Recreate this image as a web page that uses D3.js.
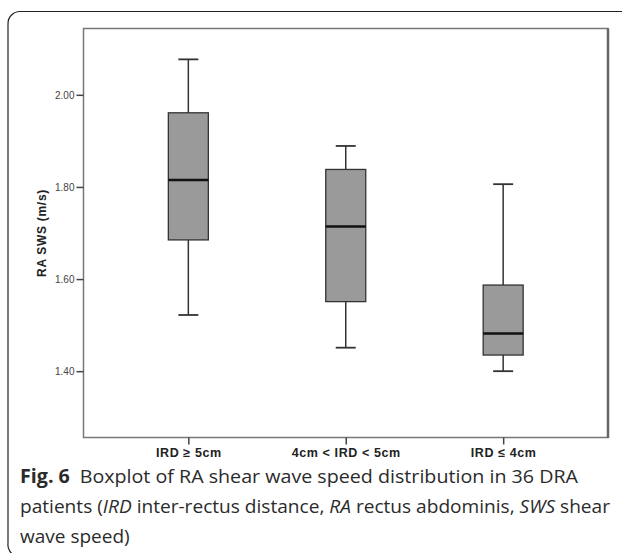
<!DOCTYPE html>
<html>
<head>
<meta charset="utf-8">
<script src="https://cdn.jsdelivr.net/npm/d3@7"></script>
<style>
  body { margin: 0; background: #fff; }
  svg { display: block; }
</style>
</head>
<body>
<div class="chart"></div>
<script>
// values
const categories = ["IRD \u2265 5cm", "4cm < IRD < 5cm", "IRD \u2264 4cm"];
const whiskerLow = [1.522, 1.451, 1.400];
const q1 = [1.685, 1.551, 1.435];
const median = [1.815, 1.714, 1.482];
const q3 = [1.961, 1.838, 1.587];
const whiskerHigh = [2.077, 1.889, 1.806];
const yTicks = [1.40, 1.60, 1.80, 2.00];

const width = 622, height = 553;
const plot = { left: 83.5, right: 608, top: 28.5, bottom: 437.5 };

const svg = d3.select(".chart")
  .append("svg")
  .attr("width", width)
  .attr("height", height);

// outer frame with rounded left corners
svg.append("path")
  .attr("d", "M 630 11.5 H 20 A 12 12 0 0 0 8 23.5 V 543 A 12 12 0 0 0 16 556")
  .attr("fill", "none")
  .attr("stroke", "#222")
  .attr("stroke-width", 1.2);

const x = d3.scalePoint()
  .domain(categories)
  .range([plot.left, plot.right])
  .padding(0.666);

const y = d3.scaleLinear()
  .domain([1.256, 2.144])
  .range([plot.bottom, plot.top]);

// plot border
svg.append("rect")
  .attr("x", plot.left)
  .attr("y", plot.top)
  .attr("width", plot.right - plot.left)
  .attr("height", plot.bottom - plot.top)
  .attr("fill", "none")
  .attr("stroke", "#777")
  .attr("stroke-width", 1.5);
svg.append("line")
  .attr("x1", plot.right).attr("x2", plot.right)
  .attr("y1", plot.top).attr("y2", plot.bottom + 0.5)
  .attr("stroke", "#666")
  .attr("stroke-width", 2.5);

// axes
const yAxis = svg.append("g")
  .attr("transform", `translate(${plot.left},0)`)
  .call(d3.axisLeft(y).tickValues(yTicks).tickFormat(d3.format(".2f")).tickSize(7).tickPadding(2));
yAxis.select(".domain").remove();
yAxis.selectAll("line").attr("stroke", "#444").attr("stroke-width", 1.5);
yAxis.selectAll("text")
  .attr("fill", "#444")
  .style("font-family", "Liberation Sans, Arial, sans-serif")
  .style("font-size", "10px");

const xAxis = svg.append("g")
  .attr("transform", `translate(0,${plot.bottom})`)
  .call(d3.axisBottom(x).tickSize(7).tickPadding(4));
xAxis.select(".domain").remove();
xAxis.selectAll("line").attr("stroke", "#444").attr("stroke-width", 1.5);
xAxis.selectAll("text")
  .attr("fill", "#222")
  .style("font-family", "Liberation Sans, Arial, sans-serif")
  .style("font-weight", "bold")
  .style("font-size", "12.5px")
  .style("letter-spacing", "0.6px");

svg.append("text")
  .attr("transform", `translate(46,${(plot.top + plot.bottom) / 2}) rotate(-90)`)
  .attr("text-anchor", "middle")
  .attr("fill", "#222")
  .style("font-family", "Liberation Sans, Arial, sans-serif")
  .style("font-weight", "bold")
  .style("font-size", "12px")
  .style("letter-spacing", "0.7px")
  .text("RA SWS (m/s)");

// boxes
const boxW = 40, capW = 20;
const boxes = svg.append("g")
  .selectAll("g")
  .data(categories)
  .join("g");

boxes.append("line")
  .attr("x1", d => x(d)).attr("x2", d => x(d))
  .attr("y1", (d, i) => y(whiskerLow[i]))
  .attr("y2", (d, i) => y(whiskerHigh[i]))
  .attr("stroke", "#333")
  .attr("stroke-width", 1.5);

boxes.selectAll(".cap")
  .data((d, i) => [{ c: d, v: whiskerLow[i] }, { c: d, v: whiskerHigh[i] }])
  .join("line")
  .attr("class", "cap")
  .attr("x1", d => x(d.c) - capW / 2)
  .attr("x2", d => x(d.c) + capW / 2)
  .attr("y1", d => y(d.v))
  .attr("y2", d => y(d.v))
  .attr("stroke", "#333")
  .attr("stroke-width", 1.8);

boxes.append("rect")
  .attr("x", d => x(d) - boxW / 2)
  .attr("width", boxW)
  .attr("y", (d, i) => y(q3[i]))
  .attr("height", (d, i) => y(q1[i]) - y(q3[i]))
  .attr("fill", "#9a9a9a")
  .attr("stroke", "#333")
  .attr("stroke-width", 1.3);

boxes.append("line")
  .attr("x1", d => x(d) - boxW / 2)
  .attr("x2", d => x(d) + boxW / 2)
  .attr("y1", (d, i) => y(median[i]))
  .attr("y2", (d, i) => y(median[i]))
  .attr("stroke", "#111")
  .attr("stroke-width", 2.5);

// caption
const caption = svg.append("g")
  .style("font-family", "Open Sans, Noto Sans, sans-serif")
  .style("font-size", "19px")
  .attr("fill", "#2b2b2b");

const line1 = caption.append("text").attr("x", 20).attr("y", 483);
line1.append("tspan").style("font-weight", "bold").text("Fig. 6");
line1.append("tspan").text("\u2002Boxplot of RA shear wave speed distribution in 36 DRA");

const line2 = caption.append("text").attr("x", 20).attr("y", 513);
line2.append("tspan").text("patients (");
line2.append("tspan").style("font-style", "italic").text("IRD");
line2.append("tspan").text(" inter-rectus distance, ");
line2.append("tspan").style("font-style", "italic").text("RA");
line2.append("tspan").text(" rectus abdominis, ");
line2.append("tspan").style("font-style", "italic").text("SWS");
line2.append("tspan").text(" shear");

caption.append("text").attr("x", 20).attr("y", 543).text("wave speed)");

// fit lines to the widths seen in the figure
const targets = [558, 590];
[line1, line2].forEach((t, i) => {
  t.attr("textLength", targets[i]).attr("lengthAdjust", "spacingAndGlyphs");
});
</script>
</body>
</html>
